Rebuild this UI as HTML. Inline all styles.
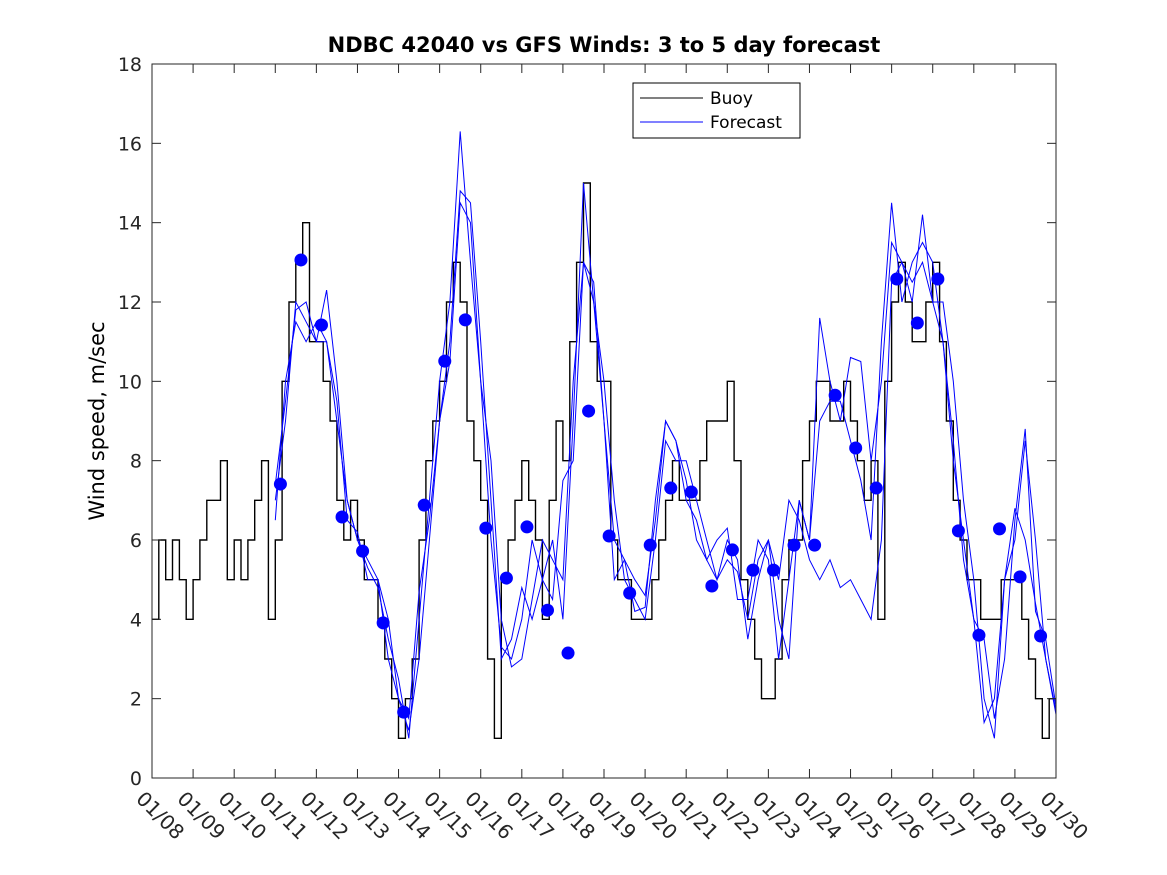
<!DOCTYPE html>
<html><head><meta charset="utf-8"><style>
body{margin:0;background:#fff}
svg{display:block;font-family:"DejaVu Sans","Liberation Sans",sans-serif}
</style></head><body>
<svg id="chart" width="1167" height="875" viewBox="0 0 1167 875">
<rect x="0" y="0" width="1167" height="875" fill="#fff"/>
<text x="604" y="52" text-anchor="middle" font-size="21" font-weight="bold">NDBC 42040 vs GFS Winds: 3 to 5 day forecast</text>
<text transform="translate(104,421) rotate(-90)" text-anchor="middle" font-size="21">Wind speed, m/sec</text>
<g id="plot"></g>
<g>
<rect x="633" y="83" width="167" height="55" fill="#fff" stroke="#000" stroke-width="1"/>
<line x1="640" y1="98" x2="703" y2="98" stroke="#000"/>
<text x="710" y="104" font-size="17">Buoy</text>
<line x1="640" y1="122" x2="703" y2="122" stroke="#0000ff"/>
<text x="710" y="128" font-size="17">Forecast</text>
</g>
</svg>
<script>
const xTickLabels=["01/08","01/09","01/10","01/11","01/12","01/13","01/14","01/15","01/16","01/17","01/18","01/19","01/20","01/21","01/22","01/23","01/24","01/25","01/26","01/27","01/28","01/29","01/30"];
const yTicks=[0,2,4,6,8,10,12,14,16,18];
// buoy: 6 values per day starting 01/08 00:00
const buoy=[4,6,5,6,5,4, 5,6,7,7,8,5, 6,5,6,7,8,4, 6,10,12,13,14,11, 11,10,9,7,6,7, 6,5,5,4,3,2, 1,2,3,6,8,9, 10,12,13,12,9,8, 7,3,1,5,6,7, 8,7,6,4,7,9, 8,11,13,15,11,10, 10,6,5,5,4,4, 4,5,6,7,8,7, 7,7,8,9,9,9, 10,8,5,4,3,2, 2,3,5,6,6,8, 9,10,10,9,9,10, 9,8,7,8,4,10, 12,13,12,11,11,12, 13,11,9,7,6,5, 5,4,4,4,5,5, 5,4,3,2,1,2];
// forecasts: every 0.25 day from day 3
const fc1=[7.4,9.5,11.8,12,11,12.3,10,7,6,5.5,5,4,2,1.2,3,6,9,11,14.8,14.5,11,7,3,3.5,4.8,4,5,6,4,9,15,12,10,7,5,4.5,4,6,8.5,8,8,7,6,5,6,5.5,3.5,5,6,4,3,7,6,11.6,10,9,10.6,10.5,8,10,13.5,13,12,14.2,12,12,10,7,5,2,1,5,6,8.5,6,3,1.7];
const fc2=[6.5,10,11.5,11,11.5,11,9,7,6,5.3,4.8,3.5,2.5,1,4,7,10,12,16.3,13,10,8,4,2.8,3,4.5,6,5.5,5,10,13,12.5,9,6,5.5,4.2,4.3,7,9,8.5,7,6.5,5.5,6,6.3,4.5,4.5,6,5.5,3,5,7,6,9,9.5,9.5,8.5,7.5,6,11,14.5,12,13,13.5,13,11,8,6,4,3.5,1.5,3,6.5,8.8,4.2,3.5,1.8];
const fc3=[7,9,12,11.5,11,11,9.5,6.5,6.2,5,5,3,2,1.5,4.7,6.5,9,10.5,14.5,14,10,6,3.3,3,4,6,5,4.5,7.5,8,13,12,9,5,5.5,5,4.6,6.5,9,8.5,7.5,6,5.5,5,5.5,5.2,4,5.5,6,5,7,6.5,5.5,5,5.5,4.8,5,4.5,4,6,12.5,13,12.5,13,12,11,8.5,5.5,4,1.4,2,5,6.8,6,4.4,3,1.6];
// dots every 0.5 day from day 3.125
const dots=[7.41,13.06,11.42,6.58,5.72,3.91,1.66,6.88,10.51,11.55,6.30,5.04,6.33,4.23,3.15,9.25,6.10,4.66,5.87,7.31,7.21,4.84,5.75,5.24,5.24,5.87,5.87,9.65,8.32,7.31,12.58,11.47,12.58,6.23,3.60,6.28,5.07,3.58];

const NS="http://www.w3.org/2000/svg";
const X0=152,X1=1056,Y0=778,Y1=64;
const xs=d=>X0+(X1-X0)*d/22;
const ys=v=>Y0-(Y0-Y1)*v/18;
const g=document.getElementById('plot');
function mk(t,a){const e=document.createElementNS(NS,t);for(const k in a)e.setAttribute(k,a[k]);g.appendChild(e);return e;}
let p="";
buoy.forEach((v,i)=>{const x0=xs(i/6),x1=xs(Math.min((i+1)/6,22));p+=(i?"L":"M")+x0.toFixed(1)+","+ys(v).toFixed(1)+"L"+x1.toFixed(1)+","+ys(v).toFixed(1);});
const bl=mk('path',{d:p,fill:'none',stroke:'#000','stroke-width':1.4});


[fc1,fc2,fc3].forEach((s,k)=>{
 const d=s.map((v,i)=>(i?"L":"M")+xs(3+i*0.25).toFixed(1)+","+ys(v).toFixed(1)).join("");
 const e=mk('path',{d:d,fill:'none',stroke:'#0000ff','stroke-width':1});
 
 
});
dots.forEach((v,i)=>{
 const c=mk('circle',{cx:xs(3.125+i*0.5),cy:ys(v),r:6.5,fill:'#0000ff'});
 
 
});
const box=mk('rect',{x:X0,y:Y1,width:X1-X0,height:Y0-Y1,fill:'none',stroke:'#262626','stroke-width':1});


xTickLabels.forEach((l,i)=>{
 const x=xs(i);
 mk('line',{x1:x,y1:Y0,x2:x,y2:Y0-9,stroke:'#262626'});
 mk('line',{x1:x,y1:Y1,x2:x,y2:Y1+9,stroke:'#262626'});
 const t=mk('text',{transform:`translate(${x-17},${Y0+22}) rotate(45)`,'font-size':20,fill:'#262626'});
 t.textContent=l;
 
 
});
yTicks.forEach(v=>{
 const y=ys(v);
 mk('line',{x1:X0,y1:y,x2:X0+9,y2:y,stroke:'#262626'});
 mk('line',{x1:X1,y1:y,x2:X1-9,y2:y,stroke:'#262626'});
 const t=mk('text',{x:X0-10,y:y+7,'text-anchor':'end','font-size':19,fill:'#262626'});
 t.textContent=v;
 
 
});
</script>
</body></html>
